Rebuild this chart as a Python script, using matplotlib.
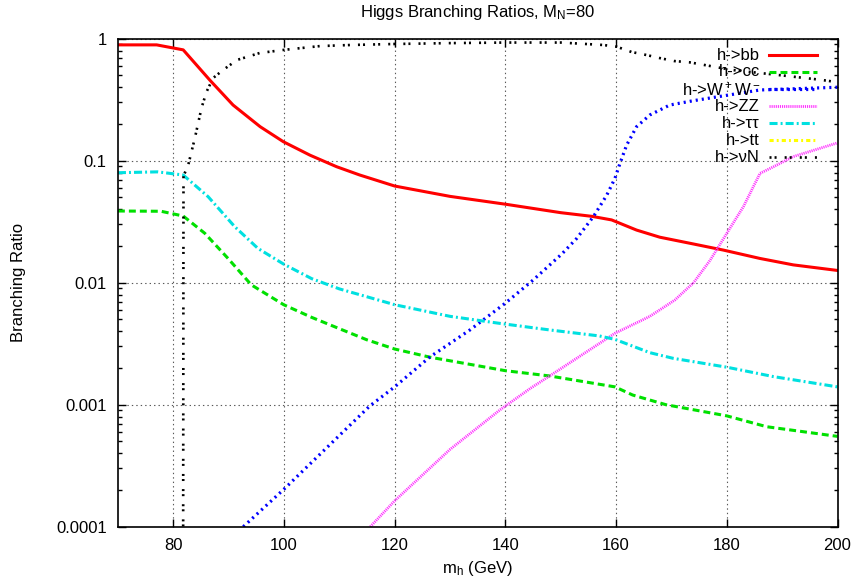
import matplotlib
matplotlib.use("Agg")
import matplotlib.pyplot as plt
from matplotlib.ticker import LogLocator, NullFormatter, NullLocator

plt.rcParams['font.family'] = ['Liberation Sans', 'DejaVu Sans']
plt.rcParams['mathtext.default'] = 'regular'
plt.rcParams['lines.scale_dashes'] = False

# ---- data ----
mh_bb = [70, 77, 81.8, 86.6, 90.8, 95.7, 99.9, 104.7, 109.5, 113.7, 120, 130, 140, 150,
         155.6, 159.2, 163.7, 167.9, 173.9, 179.4, 186, 192, 200]
br_bb = [0.89, 0.89, 0.81, 0.458, 0.286, 0.19, 0.143, 0.111, 0.0893, 0.0763, 0.062, 0.051,
         0.044, 0.0375, 0.035, 0.0327, 0.027, 0.0236, 0.0208, 0.0185, 0.0158, 0.014, 0.0126]

mh_cc = [70, 77.8, 81.8, 85.7, 89.9, 94.1, 99.95, 105, 110, 115, 120, 126.4, 140, 148,
         159.8, 163, 169, 180, 187.2, 200]
br_cc = [0.0387, 0.0385, 0.0352, 0.0254, 0.0158, 0.0096, 0.0066, 0.0052, 0.0042, 0.0034,
         0.00286, 0.00245, 0.0019, 0.00172, 0.0014, 0.0012, 0.001, 0.00081, 0.00066, 0.00055]

mh_ww = [92.65, 100, 115.5, 120, 126.4, 133.6, 140, 145, 150.2, 152.9, 155.9, 158.3, 159.8,
         160.7, 161.9, 163.7, 166.1, 169.7, 173.9, 186, 200]
br_ww = [1e-4, 2.03e-4, 9.76e-4, 1.4e-3, 2.47e-3, 4.1e-3, 6.8e-3, 1.05e-2, 1.72e-2, 2.31e-2,
         3.48e-2, 5.2e-2, 7.18e-2, 9.5e-2, 0.134, 0.19, 0.237, 0.286, 0.31, 0.38, 0.40]

mh_zz = [115.6, 120, 130, 139, 144.5, 148, 159.8, 166.1, 170.6, 174, 177, 180, 183, 186,
         188.4, 192, 200]
br_zz = [1e-4, 1.63e-4, 4.3e-4, 9.05e-4, 1.36e-3, 1.72e-3, 3.85e-3, 5.3e-3, 7.2e-3, 1e-2,
         1.53e-2, 2.54e-2, 4.2e-2, 7.88e-2, 8.9e-2, 0.108, 0.14]

mh_tau = [70, 77.2, 81.8, 86.3, 91.1, 95.3, 99.95, 105, 110, 120, 130, 139, 148, 157,
          159.8, 166.1, 170.3, 180, 188.4, 200]
br_tau = [0.0797, 0.081, 0.0763, 0.0507, 0.0288, 0.0191, 0.0142, 0.0108, 0.0089, 0.0066,
          0.0053, 0.00464, 0.0041, 0.00366, 0.00343, 0.00267, 0.0024, 0.00203, 0.0017, 0.0014]

mh_tt = []
br_tt = []

mh_vn = [81.75, 81.85, 82.7, 83.9, 85.1, 86.0, 87.2, 89, 91.5, 95.6, 99.8, 106.5, 112, 120,
         130, 140, 150, 157.7, 160.1, 162.8, 165.5, 167.8, 170.5, 173.3, 181, 190, 197, 200]
br_vn = [1e-6, 0.075, 0.092, 0.153, 0.27, 0.366, 0.476, 0.554, 0.669, 0.763, 0.808, 0.87,
         0.888, 0.905, 0.92, 0.93, 0.93, 0.888, 0.86, 0.778, 0.735, 0.695, 0.656, 0.64,
         0.554, 0.5, 0.46, 0.44]

labels = ['h->bb', 'h->cc', 'h->W$^+$W$^-$', 'h->ZZ', 'h->\u03c4\u03c4', 'h->tt', 'h->\u03bdN']
x_ticks = [80, 100, 120, 140, 160, 180, 200]
y_ticks = [1e-4, 1e-3, 1e-2, 1e-1, 1]
y_ticklabels = ['0.0001', '0.001', '0.01', '0.1', '1']

styles = [
    dict(color='#ff0000', lw=2.2, ls='-'),
    dict(color='#00e000', lw=2.2, ls=(0, (5.0, 2.9))),
    dict(color='#0000ff', lw=2.3, ls=(0, (1.5, 2.9))),
    dict(color='#ff30ff', lw=2.0, ls=(0, (0.8, 0.7))),
    dict(color='#00e0e0', lw=2.2, ls=(0, (5.8, 2.2, 1.4, 2.2))),
    dict(color='#ffff00', lw=2.2, ls=(0, (3.0, 2.2, 1.4, 2.2))),
    dict(color='#000000', lw=1.9, ls=(0, (1.45, 2.2, 1.45, 5.8))),
]
series = [(mh_bb, br_bb), (mh_cc, br_cc), (mh_ww, br_ww), (mh_zz, br_zz),
          (mh_tau, br_tau), (mh_tt, br_tt), (mh_vn, br_vn)]

FS = 12
W, H = 858, 586
fig = plt.figure(figsize=(W / 100, H / 100), dpi=100)
L, R, T, B = 117.9, 837.5, 38.7, 526.7
ax = fig.add_axes([L / W, 1 - B / H, (R - L) / W, (B - T) / H])

ax.set_yscale('log')
ax.set_xlim(70, 200)
ax.set_ylim(1e-4, 1)

ax.grid(True, which='major', color='0.35', linestyle=(0, (1, 2.2)), linewidth=0.8)
ax.set_axisbelow(True)

for (x, y), st in zip(series, styles):
    ax.plot(x, y, **st)

# legend (gnuplot style: right-aligned text, sample on the right)
row0 = 1 - (55 - T) / (B - T)
dy = 17 / (B - T)
tx = (760 - L) / (R - L)
hx0 = (769 - L) / (R - L)
hx1 = (817 - L) / (R - L)
for i, (lab, st) in enumerate(zip(labels, styles)):
    yy = row0 - i * dy
    ax.text(tx, yy, lab, transform=ax.transAxes, ha='right', va='center', fontsize=FS)
    ax.plot([hx0, hx1], [yy, yy], transform=ax.transAxes, **st)

ax.set_xticks(x_ticks)
ax.set_xticklabels([str(v) for v in x_ticks])
ax.xaxis.set_minor_locator(NullLocator())
ax.set_yticks(y_ticks)
ax.set_yticklabels(y_ticklabels)
ax.yaxis.set_minor_locator(LogLocator(base=10, subs=range(2, 10)))
ax.yaxis.set_minor_formatter(NullFormatter())
ax.tick_params(which='both', direction='in', top=True, right=True, width=1)
ax.tick_params(which='major', length=6, labelsize=FS, pad=8)
ax.tick_params(which='minor', length=3)
for s in ax.spines.values():
    s.set_linewidth(1.2)

fig.text(((L + R) / 2) / W, 1 - 13 / H, 'Higgs Branching Ratios, M$_N$=80',
         ha='center', va='center', fontsize=FS)
fig.text(((L + R) / 2) / W, 1 - 568 / H, 'm$_h$ (GeV)', ha='center', va='center', fontsize=FS)
fig.text(19 / W, 1 - ((T + B) / 2) / H, 'Branching Ratio', rotation=90,
         ha='center', va='center', fontsize=FS)

fig.savefig('out.png', dpi=100)
